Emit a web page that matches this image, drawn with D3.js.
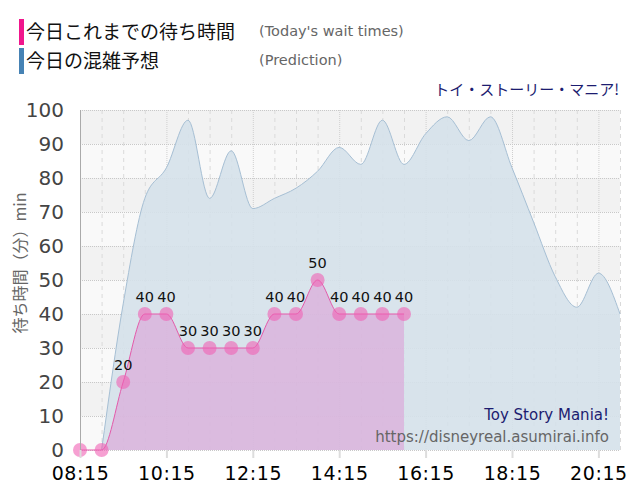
<!DOCTYPE html>
<html>
<head>
<meta charset="utf-8">
<script src="https://cdn.jsdelivr.net/npm/d3@7"></script>
<style>
  body { margin: 0; background: #fff; }
  svg { display: block; }
</style>
</head>
<body>
<svg id="chart"></svg>
<script>
"use strict";

// actual wait times so far today (30 min steps)
const waitTimes = ["08:15","08:45","09:15","09:45","10:15","10:45","11:15","11:45",
                   "12:15","12:45","13:15","13:45","14:15","14:45","15:15","15:45"];
const waitValues = [0, 0, 20, 40, 40, 30, 30, 30, 30, 40, 40, 50, 40, 40, 40, 40];

// prediction curve
const predTimes = ["08:45","09:15","09:45","10:15","10:45","11:15","11:45","12:15",
                   "12:45","13:15","13:45","14:15","14:45","15:15","15:45","16:15",
                   "16:45","17:15","17:45","18:15","18:45","19:15","19:45","20:15","20:45"];
const predValues = [0, 43, 74, 83, 97, 74, 88, 71, 74, 77, 82, 89, 84, 97, 84, 93,
                    98, 91, 98, 83, 67, 51, 42, 52, 40];

const xTickLabels = ["08:15","10:15","12:15","14:15","16:15","18:15","20:15"];
const yTicks = [0, 10, 20, 30, 40, 50, 60, 70, 80, 90, 100];

let width = 640;
let height = 500;
let plotLeft = 80, plotRight = 620, plotTop = 110, plotBottom = 450;

let toMin = (s) => {
    let p = s.split(":");
    return (+p[0]) * 60 + (+p[1]);
};

let svg = d3.select("#chart")
    .attr("width", width)
    .attr("height", height);

let xScale = d3.scaleLinear()
    .domain([toMin("08:15"), toMin("20:45")])
    .range([plotLeft, plotRight]);

let yScale = d3.scaleLinear()
    .domain([0, 100])
    .range([plotBottom, plotTop]);

// alternating bands
let bands = d3.range(0, 100, 10);
svg.selectAll("rect.band")
    .data(bands)
    .enter()
    .append("rect")
    .attr("class", "band")
    .attr("x", plotLeft)
    .attr("width", plotRight - plotLeft)
    .attr("y", (d) => yScale(d + 10))
    .attr("height", (d) => yScale(d) - yScale(d + 10))
    .attr("fill", (d) => (d / 10) % 2 === 0 ? "#f9f9f9" : "#f2f2f2");

// vertical grid every 30 min
let gridMins = d3.range(toMin("08:45"), toMin("20:45") + 1, 30);
let majorMins = xTickLabels.map(toMin);
svg.selectAll("line.vgrid")
    .data(gridMins)
    .enter()
    .append("line")
    .attr("class", "vgrid")
    .attr("x1", (d) => xScale(d) + 0.5)
    .attr("x2", (d) => xScale(d) + 0.5)
    .attr("y1", plotTop)
    .attr("y2", plotBottom)
    .attr("stroke", (d) => majorMins.includes(d) ? "#cfcfcf" : "#dadada")
    .attr("stroke-dasharray", (d) => majorMins.includes(d) ? "1,1" : "4,4");

// horizontal grid
svg.selectAll("line.hgrid")
    .data(yTicks)
    .enter()
    .append("line")
    .attr("class", "hgrid")
    .attr("x1", plotLeft)
    .attr("x2", plotRight)
    .attr("y1", (d) => yScale(d) + 0.5)
    .attr("y2", (d) => yScale(d) + 0.5)
    .attr("stroke", "#c8c8c8")
    .attr("stroke-dasharray", "1,1");

// prediction area
let predData = predTimes.map((t, i) => ({ t: toMin(t), v: predValues[i] }));
let area = d3.area()
    .x((d) => xScale(d.t))
    .y0(yScale(0))
    .y1((d) => yScale(d.v))
    .curve(d3.curveMonotoneX);
let line = d3.line()
    .x((d) => xScale(d.t))
    .y((d) => yScale(d.v))
    .curve(d3.curveMonotoneX);

svg.append("path")
    .datum(predData)
    .attr("d", area)
    .attr("fill", "#d5e1ea")
    .attr("fill-opacity", 0.9);
svg.append("path")
    .datum(predData)
    .attr("d", line)
    .attr("fill", "none")
    .attr("stroke", "#a6bfd4")
    .attr("stroke-width", 1);

// actual wait times
let waitData = waitTimes.map((t, i) => ({ t: toMin(t), v: waitValues[i] }));
svg.append("path")
    .datum(waitData)
    .attr("d", area)
    .attr("fill", "#e070c8")
    .attr("fill-opacity", 0.35);
svg.append("path")
    .datum(waitData)
    .attr("d", line)
    .attr("fill", "none")
    .attr("stroke", "#e45aaa")
    .attr("stroke-width", 1);

svg.selectAll("circle.pt")
    .data(waitData)
    .enter()
    .append("circle")
    .attr("class", "pt")
    .attr("cx", (d) => xScale(d.t))
    .attr("cy", (d) => yScale(d.v))
    .attr("r", 7)
    .attr("fill", "#f060b4")
    .attr("fill-opacity", 0.6);

svg.selectAll("text.lbl")
    .data(waitData.filter((d) => d.v > 0))
    .enter()
    .append("text")
    .attr("class", "lbl")
    .attr("x", (d) => xScale(d.t))
    .attr("y", (d) => yScale(d.v) - 12)
    .attr("text-anchor", "middle")
    .attr("font-family", "DejaVu Sans")
    .attr("font-size", 14.5)
    .attr("fill", "#111")
    .text((d) => d.v);

// left axis line
svg.append("line")
    .attr("x1", plotLeft + 0.5).attr("x2", plotLeft + 0.5)
    .attr("y1", plotTop).attr("y2", plotBottom)
    .attr("stroke", "#aaa");

// axes
let yAxis = d3.axisLeft(yScale)
    .tickValues(yTicks)
    .tickSize(0)
    .tickPadding(16);
let gy = svg.append("g")
    .attr("transform", "translate(" + plotLeft + ",0)")
    .call(yAxis);
gy.select(".domain").remove();
gy.selectAll("text")
    .attr("font-family", "DejaVu Sans")
    .attr("font-size", 20)
    .attr("fill", "#444");

let xAxis = d3.axisBottom(xScale)
    .tickValues(majorMins)
    .tickFormat((d, i) => xTickLabels[i])
    .tickSize(8)
    .tickPadding(9);
let gx = svg.append("g")
    .attr("transform", "translate(0," + plotBottom + ")")
    .call(xAxis);
gx.select(".domain").remove();
gx.selectAll("line")
    .attr("stroke", "#ddd")
    .attr("stroke-width", 2);
gx.selectAll("text")
    .attr("font-family", "DejaVu Sans")
    .attr("font-size", 19)
    .attr("letter-spacing", 0.6)
    .attr("fill", "#000");

// y title
svg.append("text")
    .attr("transform", "translate(26,263) rotate(-90)")
    .attr("text-anchor", "middle")
    .attr("font-family", "Noto Sans CJK JP")
    .attr("font-size", 16)
    .attr("fill", "#666")
    .text("待ち時間（分）min");

// legend
svg.append("rect").attr("x", 19).attr("y", 19).attr("width", 5).attr("height", 26).attr("fill", "#f0168c");
svg.append("rect").attr("x", 19).attr("y", 48).attr("width", 5).attr("height", 26).attr("fill", "#4682b4");
svg.append("text").attr("x", 26).attr("y", 39)
    .attr("font-family", "Noto Sans CJK JP").attr("font-size", 19).attr("fill", "#111")
    .text("今日これまでの待ち時間");
svg.append("text").attr("x", 26).attr("y", 68)
    .attr("font-family", "Noto Sans CJK JP").attr("font-size", 19).attr("fill", "#111")
    .text("今日の混雑予想");
svg.append("text").attr("x", 259).attr("y", 36)
    .attr("font-family", "DejaVu Sans").attr("font-size", 14.5).attr("fill", "#666")
    .text("(Today's wait times)");
svg.append("text").attr("x", 259).attr("y", 65)
    .attr("font-family", "DejaVu Sans").attr("font-size", 14.5).attr("fill", "#666")
    .text("(Prediction)");

svg.append("text").attr("x", 619).attr("y", 95)
    .attr("text-anchor", "end")
    .attr("font-family", "Noto Sans CJK JP").attr("font-size", 15).attr("fill", "#1c1c70")
    .text("トイ・ストーリー・マニア!");

svg.append("text").attr("x", 609).attr("y", 420)
    .attr("text-anchor", "end")
    .attr("font-family", "DejaVu Sans").attr("font-size", 15).attr("fill", "#1c1c70")
    .text("Toy Story Mania!");
svg.append("text").attr("x", 609).attr("y", 442)
    .attr("text-anchor", "end")
    .attr("font-family", "DejaVu Sans").attr("font-size", 15).attr("fill", "#666")
    .text("https://disneyreal.asumirai.info");
</script>
</body>
</html>
